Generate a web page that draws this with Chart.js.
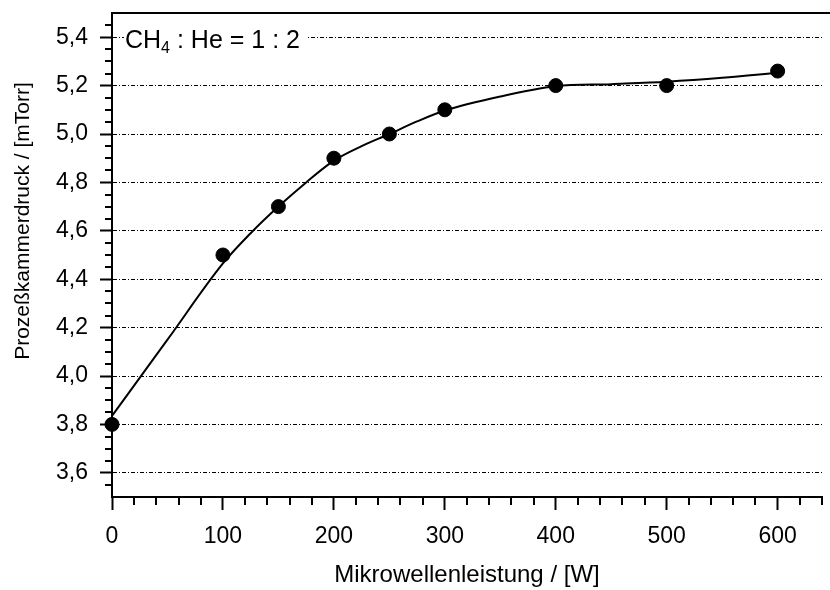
<!DOCTYPE html>
<html>
<head>
<meta charset="utf-8">
<script src="https://cdn.jsdelivr.net/npm/chart.js@4.4.1/dist/chart.umd.min.js"></script>
<style>
  html, body { margin: 0; padding: 0; background: #fff; }
  canvas { display: block; }
</style>
</head>
<body>
<canvas id="pressureChart" width="830" height="590"></canvas>
<script>
// measured points
const powerW = [0, 100, 150, 200, 250, 300, 400, 500, 600];
const pressure = [3.8, 4.5, 4.7, 4.9, 5.0, 5.1, 5.2, 5.2, 5.26];

// fitted curve
const fitPower = [0, 50, 100, 125, 150, 175, 200, 225, 250, 275, 300, 350, 400, 450, 500, 550, 600];
const fitPressure = [3.835, 4.15, 4.465, 4.59, 4.70, 4.80, 4.89, 4.95, 5.0, 5.052, 5.097, 5.155, 5.197, 5.206, 5.216, 5.232, 5.253];

// axis ticks
const xTicks = [0, 100, 200, 300, 400, 500, 600];
const yTicks = [3.6, 3.8, 4.0, 4.2, 4.4, 4.6, 4.8, 5.0, 5.2, 5.4];
const xRange = [0, 640];
const yRange = [3.5, 5.5];
const xMinorStep = 20;
const yMinorStep = 0.05;

const yTitle = 'Prozeßkammerdruck / [mTorr]';
const FONT = "'Liberation Sans', Arial, Helvetica, sans-serif";

// minor ticks, top frame line, y title and the gas ratio label
const decorPlugin = {
    id: 'decor',
    afterDraw(chart) {
        const ctx = chart.ctx;
        const area = chart.chartArea;
        const xs = chart.scales.x;
        const ys = chart.scales.y;
        ctx.save();
        ctx.strokeStyle = '#000';
        ctx.lineWidth = 2;

        // top frame
        ctx.beginPath();
        ctx.moveTo(area.left - 1, area.top);
        ctx.lineTo(chart.width, area.top);
        ctx.stroke();

        // minor ticks
        ctx.beginPath();
        const nx = Math.round((xRange[1] - xRange[0]) / xMinorStep);
        for (let i = 1; i <= nx; i++) {
            const v = xRange[0] + i * xMinorStep;
            if (xTicks.includes(v)) continue;
            const px = Math.round(xs.getPixelForValue(v));
            ctx.moveTo(px, area.bottom);
            ctx.lineTo(px, area.bottom + 8);
        }
        const ny = Math.round((yRange[1] - yRange[0]) / yMinorStep);
        for (let i = 1; i < ny; i++) {
            const v = +(yRange[0] + i * yMinorStep).toFixed(2);
            if (yTicks.some(t => Math.abs(t - v) < 1e-6)) continue;
            const py = Math.round(ys.getPixelForValue(v));
            ctx.moveTo(area.left, py);
            ctx.lineTo(area.left - 7, py);
        }
        ctx.stroke();

        // y axis title
        ctx.save();
        ctx.translate(23, 221);
        ctx.rotate(-Math.PI / 2);
        ctx.fillStyle = '#000';
        ctx.textAlign = 'center';
        ctx.textBaseline = 'middle';
        ctx.font = '21px ' + FONT;
        ctx.fillText(yTitle, 0, 0);
        ctx.restore();

        // label box
        ctx.fillStyle = '#fff';
        ctx.fillRect(124, 24, 183, 30);
        ctx.fillStyle = '#000';
        ctx.textBaseline = 'alphabetic';
        ctx.textAlign = 'left';
        ctx.font = '25px ' + FONT;
        let x = 125;
        ctx.fillText('CH', x, 48);
        x += ctx.measureText('CH').width;
        ctx.font = '16px ' + FONT;
        ctx.fillText('4', x, 53);
        x += ctx.measureText('4').width;
        ctx.font = '25px ' + FONT;
        ctx.fillText(' : He = 1 : 2', x, 48);
        ctx.restore();
    }
};

const fmtComma = v => Number(v).toFixed(1).replace('.', ',');

new Chart(document.getElementById('pressureChart').getContext('2d'), {
    type: 'scatter',
    data: {
        datasets: [
            {
                label: 'Fit',
                data: fitPower.map((p, i) => ({ x: p, y: fitPressure[i] })),
                showLine: true,
                borderColor: '#000',
                borderWidth: 2,
                pointRadius: 0,
                cubicInterpolationMode: 'monotone',
                order: 2,
            },
            {
                label: 'Messwerte',
                data: powerW.map((p, i) => ({ x: p, y: pressure[i] })),
                showLine: false,
                backgroundColor: '#000',
                borderColor: '#000',
                pointRadius: 7,
                pointHoverRadius: 7,
                order: 1,
            },
        ],
    },
    options: {
        responsive: false,
        animation: false,
        clip: false,
        layout: { padding: { top: 13, right: 1, left: 0, bottom: 0 } },
        plugins: {
            legend: { display: false },
            tooltip: { enabled: false },
        },
        scales: {
            x: {
                type: 'linear',
                min: xRange[0],
                max: xRange[1],
                afterBuildTicks: s => { s.ticks = xTicks.map(v => ({ value: v })); },
                afterFit: s => {
                    s.height = 93;
                    s.paddingLeft = 0;
                    s.paddingRight = 0;
                },
                grid: {
                    drawOnChartArea: false,
                    drawTicks: true,
                    tickLength: 13,
                    tickWidth: 2,
                    tickColor: '#000',
                },
                border: { display: true, color: '#000', width: 2 },
                ticks: {
                    color: '#000',
                    padding: 13,
                    maxRotation: 0,
                    font: { family: FONT, size: 23 },
                },
                title: {
                    display: true,
                    text: 'Mikrowellenleistung / [W]',
                    color: '#000',
                    font: { family: FONT, size: 24 },
                    padding: { top: 0, bottom: 0 },
                },
            },
            y: {
                type: 'linear',
                min: yRange[0],
                max: yRange[1],
                afterBuildTicks: s => { s.ticks = yTicks.map(v => ({ value: v })); },
                afterFit: s => {
                    s.width = 112;
                    s.paddingTop = 0;
                    s.paddingBottom = 0;
                },
                grid: {
                    drawOnChartArea: true,
                    color: '#000',
                    lineWidth: 1,
                    drawTicks: true,
                    tickLength: 12,
                    tickWidth: 2,
                    tickColor: '#000',
                    tickBorderDash: [],
                },
                border: { display: true, color: '#000', width: 2, dash: [4, 2, 1, 2] },
                ticks: {
                    color: '#000',
                    padding: 12,
                    font: { family: FONT, size: 23 },
                    callback: v => fmtComma(v),
                },
                title: { display: false },
            },
        },
    },
    plugins: [decorPlugin],
});
</script>
</body>
</html>
